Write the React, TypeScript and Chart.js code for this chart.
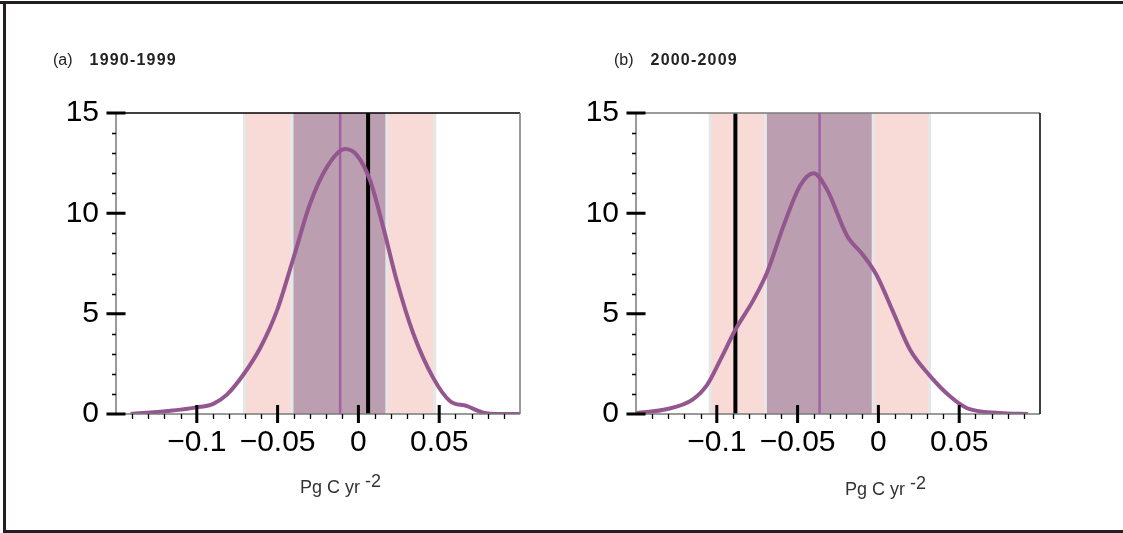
import React, { useEffect, useRef } from "react";
import { Chart, registerables } from "chart.js";
Chart.register(...registerables);

const FONT = "'Liberation Sans', Arial, Helvetica, sans-serif";

// axes
const X_MIN = -0.15;
const X_MAX = 0.1;
const Y_MIN = 0;
const Y_MAX = 15;
const X_TICKS = [-0.1, -0.05, 0, 0.05];
const X_TICK_LABELS = ["\u22120.1", "\u22120.05", "0", "0.05"];
const Y_TICKS = [0, 5, 10, 15];
const Y_TICK_LABELS = ["0", "5", "10", "15"];
const X_MINOR_STEP = 0.01;
const Y_MINOR_STEP = 1;

// panel (a) 1990-1999
const A_X = [-0.141, -0.118, -0.1, -0.0895, -0.0812, -0.071, -0.0607, -0.0504, -0.0401, -0.0298, -0.0195, -0.0082, -0.001, 0.0072, 0.0154, 0.0237, 0.034, 0.0463, 0.0566, 0.0669, 0.0772, 0.0875, 0.0998];
const A_Y = [0.0, 0.15, 0.33, 0.52, 0.98, 1.98, 3.3, 5.15, 7.8, 10.5, 12.3, 13.2, 12.9, 11.65, 9.3, 6.65, 4.0, 1.8, 0.65, 0.4, 0.07, 0.0, 0.0];
const A_OUTER = [-0.0714, 0.0482];
const A_INNER = [-0.0422, 0.0187];
const A_MEDIAN = -0.0113;
const A_OBS = 0.006;

// panel (b) 2000-2009
const B_X = [-0.1496, -0.1306, -0.115, -0.106, -0.0975, -0.0885, -0.0772, -0.0689, -0.0586, -0.0483, -0.0401, -0.0319, -0.0195, -0.0093, -0.001, 0.0093, 0.0196, 0.0319, 0.0443, 0.0546, 0.0751, 0.0926];
const B_Y = [0.05, 0.25, 0.72, 1.45, 2.75, 4.2, 5.7, 7.05, 9.4, 11.4, 12.0, 11.2, 8.9, 7.9, 6.9, 5.05, 3.2, 1.9, 0.88, 0.3, 0.05, 0.0];
const B_OUTER = [-0.105, 0.0325];
const B_INNER = [-0.071, -0.0021];
const B_MEDIAN = -0.0364;
const B_OBS = -0.0885;

const CURVE = "#93568f";
const MEDIAN_COLOR = "#a062a0";
const PINK = "#f8dad7";
const PURPLE_BAND = "#bc9eb1";
const STRIP = "#e6e6e6";

type PanelProps = {
  xs: number[];
  ys: number[];
  outer: number[];
  inner: number[];
  median: number;
  obs: number;
  topColor: string;
  rightColor: string;
  left: number;
};

function Panel(p: PanelProps) {
  const ref = useRef<HTMLCanvasElement | null>(null);
  useEffect(() => {
    const canvas = ref.current;
    if (!canvas) return;
    const bands = {
      id: "bands",
      beforeDatasetsDraw(chart: any) {
        const ctx = chart.ctx;
        const xs = chart.scales.x;
        const { top, bottom } = chart.chartArea;
        const h = bottom - top;
        const px = (v: number) => xs.getPixelForValue(v);
        const s = 3.3;
        ctx.save();
        const o0 = px(p.outer[0]);
        const o1 = px(p.outer[1]);
        ctx.fillStyle = STRIP;
        ctx.fillRect(o0, top, o1 - o0, h);
        ctx.fillStyle = PINK;
        ctx.fillRect(o0 + s, top, o1 - o0 - 2 * s, h);
        const i0 = px(p.inner[0]);
        const i1 = px(p.inner[1]);
        ctx.fillStyle = STRIP;
        ctx.fillRect(i0, top, i1 - i0, h);
        ctx.fillStyle = PURPLE_BAND;
        ctx.fillRect(i0 + s, top, i1 - i0 - 2 * s, h);
        // median
        ctx.strokeStyle = MEDIAN_COLOR;
        ctx.lineWidth = 2.5;
        ctx.beginPath();
        ctx.moveTo(px(p.median), top);
        ctx.lineTo(px(p.median), bottom);
        ctx.stroke();
        // observed
        ctx.strokeStyle = "#000";
        ctx.lineWidth = 4;
        ctx.beginPath();
        ctx.moveTo(px(p.obs), top);
        ctx.lineTo(px(p.obs), bottom);
        ctx.stroke();
        ctx.restore();
      },
    };
    const frame = {
      id: "frame",
      afterDraw(chart: any) {
        const ctx = chart.ctx;
        const xs = chart.scales.x;
        const ys = chart.scales.y;
        const { left, right, top, bottom } = chart.chartArea;
        ctx.save();
        ctx.lineCap = "butt";
        // axis lines
        ctx.lineWidth = 1.5;
        ctx.strokeStyle = "#7a7a7a";
        ctx.beginPath();
        ctx.moveTo(left, top);
        ctx.lineTo(left, bottom);
        ctx.moveTo(left, bottom);
        ctx.lineTo(right, bottom);
        ctx.stroke();
        ctx.strokeStyle = p.topColor;
        ctx.beginPath();
        ctx.moveTo(left, top);
        ctx.lineTo(right, top);
        ctx.stroke();
        ctx.strokeStyle = p.rightColor;
        ctx.beginPath();
        ctx.moveTo(right, top);
        ctx.lineTo(right, bottom);
        ctx.stroke();
        // minor ticks
        ctx.strokeStyle = "#000";
        ctx.lineWidth = 1.3;
        ctx.beginPath();
        for (let v = Y_MIN; v <= Y_MAX + 1e-9; v += Y_MINOR_STEP) {
          if (Y_TICKS.some((t) => Math.abs(t - v) < 1e-9)) continue;
          const y = Math.round(ys.getPixelForValue(v)) + 0.5;
          ctx.moveTo(left - 4, y);
          ctx.lineTo(left, y);
        }
        const n = Math.round((X_MAX - X_MIN) / X_MINOR_STEP);
        for (let k = 1; k < n; k++) {
          const v = X_MIN + k * X_MINOR_STEP;
          if (X_TICKS.some((t) => Math.abs(t - v) < 1e-9)) continue;
          const x = Math.round(xs.getPixelForValue(v)) + 0.5;
          ctx.moveTo(x, bottom);
          ctx.lineTo(x, bottom + 5);
        }
        ctx.stroke();
        // major ticks
        ctx.lineWidth = 3;
        ctx.beginPath();
        for (const v of Y_TICKS) {
          const y = ys.getPixelForValue(v);
          ctx.moveTo(left - 9.5, y);
          ctx.lineTo(left + 9.5, y);
        }
        for (const v of X_TICKS) {
          const x = xs.getPixelForValue(v);
          ctx.moveTo(x, bottom - 9);
          ctx.lineTo(x, bottom + 9);
        }
        ctx.stroke();
        ctx.restore();
      },
    };
    const chart = new Chart(canvas, {
      type: "line",
      data: {
        datasets: [
          {
            data: p.xs.map((x, i) => ({ x, y: p.ys[i] })),
            borderColor: CURVE,
            borderWidth: 4,
            pointRadius: 0,
            fill: false,
            tension: 0.4,
            cubicInterpolationMode: "monotone",
          } as any,
        ],
      },
      options: {
        animation: false,
        responsive: false,
        maintainAspectRatio: false,
        layout: { padding: { top: 113, left: 0, right: 20, bottom: 59 } },
        plugins: { legend: { display: false }, tooltip: { enabled: false } },
        scales: {
          x: {
            type: "linear",
            min: X_MIN,
            max: X_MAX,
            grid: { display: false },
            border: { display: false },
            afterBuildTicks: (s: any) => {
              s.ticks = X_TICKS.map((v) => ({ value: v }));
            },
            afterFit: (s: any) => {
              s.height = 60;
            },
            ticks: {
              autoSkip: false,
              maxRotation: 0,
              padding: 3,
              color: "#000",
              font: { family: FONT, size: 30 },
              callback: (v: any) => {
                const i = X_TICKS.findIndex((t) => Math.abs(t - Number(v)) < 1e-9);
                return i >= 0 ? X_TICK_LABELS[i] : "";
              },
            },
          },
          y: {
            type: "linear",
            min: Y_MIN,
            max: Y_MAX,
            grid: { display: false },
            border: { display: false },
            afterBuildTicks: (s: any) => {
              s.ticks = Y_TICKS.map((v) => ({ value: v }));
            },
            afterFit: (s: any) => {
              s.width = 116;
            },
            ticks: {
              autoSkip: false,
              padding: 9,
              color: "#000",
              font: { family: FONT, size: 30 },
              callback: (v: any) => {
                const i = Y_TICKS.findIndex((t) => Math.abs(t - Number(v)) < 1e-9);
                return i >= 0 ? Y_TICK_LABELS[i] : "";
              },
            },
          },
        },
      },
      plugins: [bands, frame],
    });
    return () => chart.destroy();
  }, []);
  return (
    <canvas
      ref={ref}
      width={540}
      height={533}
      style={{ position: "absolute", left: p.left, top: 0, width: 540, height: 533 }}
    />
  );
}

const labelStyle: React.CSSProperties = {
  position: "absolute",
  fontFamily: FONT,
  color: "#222",
  whiteSpace: "nowrap",
  lineHeight: 1,
};

function PanelTitle({ left, tag, period }: { left: number; tag: string; period: string }) {
  return (
    <div style={{ ...labelStyle, left, top: 52, fontSize: 16 }}>
      <span>{tag}</span>
      <span style={{ fontWeight: "bold", marginLeft: 17, letterSpacing: 1.2 }}>{period}</span>
    </div>
  );
}

function AxisTitle({ left, top }: { left: number; top: number }) {
  return (
    <div style={{ ...labelStyle, left, top, fontSize: 18, color: "#333" }}>
      Pg C yr <span style={{ position: "relative", top: -6 }}>-2</span>
    </div>
  );
}

export default function App() {
  return (
    <div
      style={{
        position: "absolute",
        left: 0,
        top: 0,
        width: 1123,
        height: 533,
        background: "#fff",
        overflow: "hidden",
      }}
    >
      <div style={{ position: "absolute", left: 0, top: 1, width: 1123, height: 3, background: "#231f20" }} />
      <div style={{ position: "absolute", left: 3, top: 1, width: 3, height: 532, background: "#231f20" }} />
      <div style={{ position: "absolute", left: 3, top: 530, width: 1120, height: 3, background: "#231f20" }} />
      <Panel xs={A_X} ys={A_Y} outer={A_OUTER} inner={A_INNER} median={A_MEDIAN} obs={A_OBS} topColor="#000" rightColor="#7a7a7a" left={0} />
      <Panel xs={B_X} ys={B_Y} outer={B_OUTER} inner={B_INNER} median={B_MEDIAN} obs={B_OBS} topColor="#7a7a7a" rightColor="#000" left={520} />
      <PanelTitle left={53} tag="(a)" period="1990-1999" />
      <PanelTitle left={614} tag="(b)" period="2000-2009" />
      <AxisTitle left={300} top={478} />
      <AxisTitle left={845} top={480} />
    </div>
  );
}
